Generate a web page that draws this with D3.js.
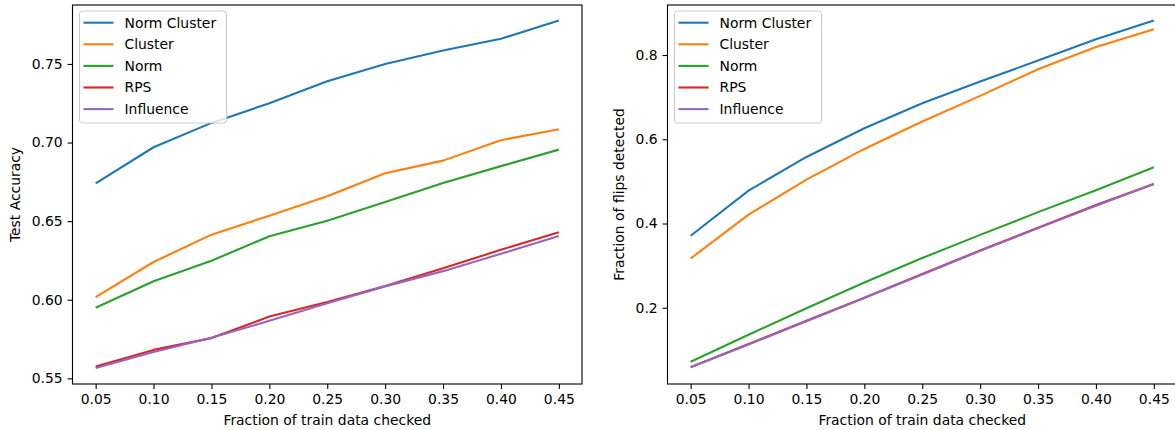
<!DOCTYPE html>
<html>
<head>
<meta charset="utf-8">
<script src="https://cdn.jsdelivr.net/npm/d3@7"></script>
<style>
    body { margin: 0; background: #fff; }
    text { font-family: "DejaVu Sans", sans-serif; }
</style>
</head>
<body>
<div class="charts-div"></div>
<script>
// fraction of train data checked
const fractions = [0.05, 0.10, 0.15, 0.20, 0.25, 0.30, 0.35, 0.40, 0.45];
const methods = ["Norm Cluster", "Cluster", "Norm", "RPS", "Influence"];

// left panel: test accuracy
const accNormCluster = [0.674, 0.697, 0.7125, 0.725, 0.739, 0.750, 0.7585, 0.766, 0.7777];
const accCluster = [0.6017, 0.624, 0.6414, 0.6535, 0.6658, 0.6805, 0.6885, 0.7015, 0.7085];
const accNorm = [0.5949, 0.6118, 0.6248, 0.6404, 0.6503, 0.6622, 0.6743, 0.6850, 0.6955];
const accRPS = [0.5575, 0.5681, 0.5756, 0.5893, 0.5985, 0.6088, 0.620, 0.6318, 0.6430];
const accInfluence = [0.5566, 0.5668, 0.5758, 0.5866, 0.5978, 0.6085, 0.6182, 0.6292, 0.6405];

// right panel: fraction of flips detected
const flipNormCluster = [0.371, 0.478, 0.558, 0.626, 0.6855, 0.737, 0.787, 0.8375, 0.8817];
const flipCluster = [0.317, 0.421, 0.504, 0.577, 0.642, 0.703, 0.7663, 0.819, 0.8613];
const flipNorm = [0.0717, 0.136, 0.199, 0.260, 0.318, 0.373, 0.427, 0.479, 0.5335];
const flipRPS = [0.059, 0.114, 0.169, 0.224, 0.280, 0.336, 0.390, 0.444, 0.494];
const flipInfluence = [0.059, 0.113, 0.168, 0.223, 0.279, 0.335, 0.389, 0.442, 0.494];

const xTicks = [0.05, 0.10, 0.15, 0.20, 0.25, 0.30, 0.35, 0.40, 0.45];
const accTicks = [0.55, 0.60, 0.65, 0.70, 0.75];
const flipTicks = [0.2, 0.4, 0.6, 0.8];

const colors = ["#1f77b4", "#ff7f0e", "#2ca02c", "#d62728", "#9467bd"];

const W = 1175, H = 430;
const FONT = 13.9;

const svg = d3.select(".charts-div").append("svg")
    .attr("width", W)
    .attr("height", H);

const drawPanel = ({ left, right, top, bottom, yDomain, yTicks, yFormat, series, yLabel, yLabelX }) => {
    const x = d3.scaleLinear().domain([0.03, 0.47]).range([left, right]);
    const y = d3.scaleLinear().domain(yDomain).range([bottom, top]);

    const g = svg.append("g");

    // lines
    const line = d3.line()
        .x((d, i) => x(fractions[i]))
        .y((d) => y(d));

    series.forEach((values, i) => {
        g.append("path")
            .datum(values)
            .attr("fill", "none")
            .attr("stroke", colors[i])
            .attr("stroke-width", 2.1)
            .attr("stroke-linejoin", "round")
            .attr("d", line);
    });

    // axes
    const xAxis = d3.axisBottom(x).tickValues(xTicks).tickFormat(d3.format(".2f"))
        .tickSize(4.9).tickPadding(4.9).tickSizeOuter(0);
    const yAxis = d3.axisLeft(y).tickValues(yTicks).tickFormat(d3.format(yFormat))
        .tickSize(4.9).tickPadding(4.9).tickSizeOuter(0);

    const gx = g.append("g").attr("transform", `translate(0,${bottom})`).call(xAxis);
    const gy = g.append("g").attr("transform", `translate(${left},0)`).call(yAxis);
    [gx, gy].forEach((ax) => {
        ax.select(".domain").remove();
        ax.selectAll("line").attr("stroke", "#000").attr("stroke-width", 1.1);
        ax.selectAll("text").attr("font-size", FONT).attr("fill", "#000")
            .attr("font-family", "DejaVu Sans, sans-serif");
    });

    // frame
    g.append("rect")
        .attr("x", left)
        .attr("y", top)
        .attr("width", right - left)
        .attr("height", bottom - top)
        .attr("fill", "none")
        .attr("stroke", "#000")
        .attr("stroke-width", 1.1);

    // labels
    g.append("text")
        .attr("x", (left + right) / 2)
        .attr("y", 425)
        .attr("text-anchor", "middle")
        .attr("font-size", FONT)
        .attr("fill", "#000")
        .text("Fraction of train data checked");

    g.append("text")
        .attr("transform", `translate(${yLabelX},${(top + bottom) / 2}) rotate(-90)`)
        .attr("text-anchor", "middle")
        .attr("font-size", FONT)
        .attr("fill", "#000")
        .text(yLabel);

    // legend
    const lg = g.append("g").attr("transform", `translate(${left + 7},${top + 6})`);
    lg.append("rect")
        .attr("width", 147)
        .attr("height", 112)
        .attr("rx", 3)
        .attr("fill", "#fff")
        .attr("fill-opacity", 0.8)
        .attr("stroke", "#cccccc")
        .attr("stroke-width", 1);

    methods.forEach((name, i) => {
        const row = lg.append("g").attr("transform", `translate(0,${11.7 + i * 21.6})`);
        row.append("line")
            .attr("x1", 4).attr("x2", 34)
            .attr("stroke", colors[i])
            .attr("stroke-width", 2.1);
        row.append("text")
            .attr("x", 45)
            .attr("dy", "0.35em")
            .attr("font-size", FONT)
            .attr("fill", "#000")
            .text(name);
    });
};

drawPanel({
    left: 72.5, right: 582, top: 5, bottom: 384,
    yDomain: [0.5464, 0.7875],
    yTicks: accTicks,
    yFormat: ".2f",
    series: [accNormCluster, accCluster, accNorm, accRPS, accInfluence],
    yLabel: "Test Accuracy",
    yLabelX: 20
});

drawPanel({
    left: 667.5, right: 1177, top: 5, bottom: 384,
    yDomain: [0.019, 0.9187],
    yTicks: flipTicks,
    yFormat: ".1f",
    series: [flipNormCluster, flipCluster, flipNorm, flipRPS, flipInfluence],
    yLabel: "Fraction of flips detected",
    yLabelX: 624
});
</script>
</body>
</html>
